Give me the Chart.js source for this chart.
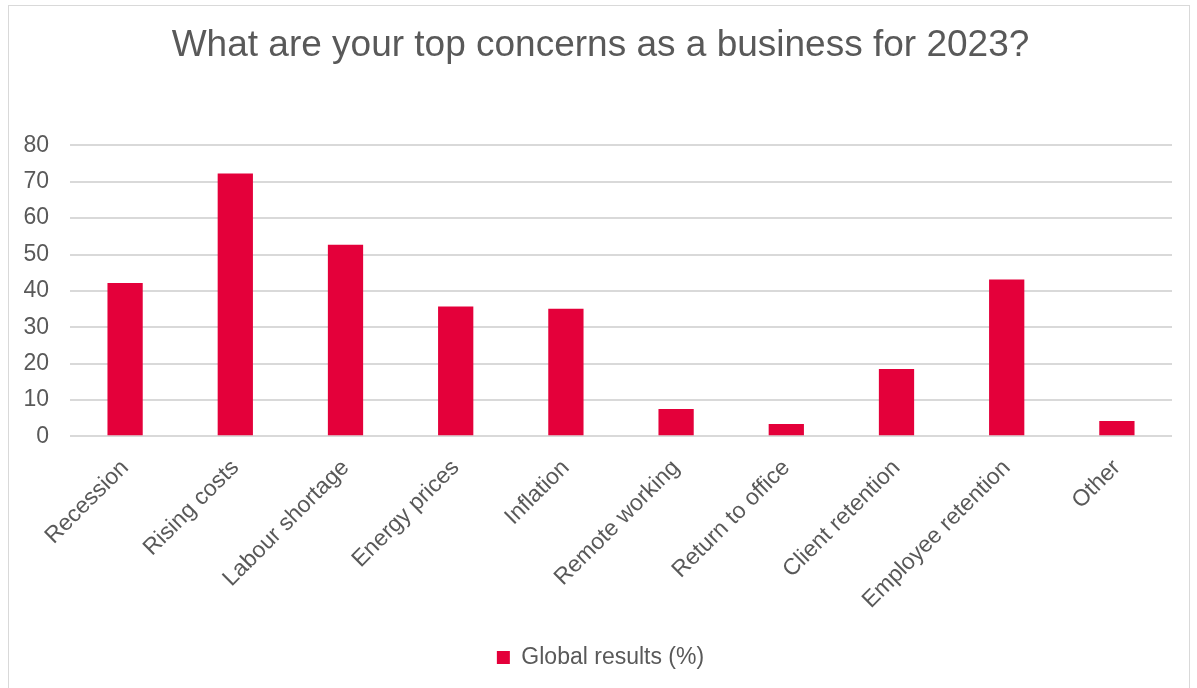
<!DOCTYPE html>
<html>
<head>
<meta charset="utf-8">
<script src="https://cdn.jsdelivr.net/npm/chart.js@4"></script>
<style>
  html, body { margin: 0; padding: 0; background: #fff; }
  .frame {
    position: absolute; left: 8px; top: 5px; width: 1182px; height: 690px;
    border: 1px solid #d9d9d9; box-sizing: border-box;
  }
  .frame canvas { display: block; }
</style>
</head>
<body>
<div class="frame"><canvas id="chart"></canvas></div>
<script>
// concerns and the share of businesses naming each one
const categories = ['Recession', 'Rising costs', 'Labour shortage', 'Energy prices', 'Inflation',
  'Remote working', 'Return to office', 'Client retention', 'Employee retention', 'Other'];
const globalResults = [42.2, 72.3, 52.7, 35.7, 35.1, 7.5, 3.4, 18.5, 43.1, 4.2];
const yTicks = [0, 10, 20, 30, 40, 50, 60, 70, 80];

const red = '#e4003a';
const textGrey = '#595959';

const ctx = document.getElementById('chart').getContext('2d');
new Chart(ctx, {
  type: 'bar',
  data: {
    labels: categories,
    datasets: [{
      label: 'Global results (%)',
      data: globalResults,
      backgroundColor: red,
      borderWidth: 0,
      categoryPercentage: 1,
      barPercentage: 0.32
    }]
  },
  options: {
    responsive: true,
    maintainAspectRatio: false,
    animation: false,
    layout: { padding: { left: 3, right: 0, top: 0, bottom: 15 } },
    plugins: {
      title: {
        display: true,
        text: 'What are your top concerns as a business for 2023?',
        color: textGrey,
        font: { family: 'Liberation Sans', size: 37, weight: 'normal' },
        padding: { top: 18, bottom: 77 }
      },
      legend: {
        position: 'bottom',
        labels: {
          color: textGrey,
          font: { family: 'Liberation Sans', size: 23 },
          boxWidth: 13,
          boxHeight: 13,
          padding: 22
        }
      },
      tooltip: { enabled: false }
    },
    scales: {
      x: {
        grid: { display: false },
        border: { display: false },
        ticks: {
          color: textGrey,
          font: { family: 'Liberation Sans', size: 23 },
          minRotation: 45,
          maxRotation: 45,
          padding: 10
        }
      },
      y: {
        min: yTicks[0],
        max: yTicks[yTicks.length - 1],
        afterBuildTicks: (axis) => { axis.ticks = yTicks.map(v => ({ value: v })); },
        // fixed width, otherwise the tick padding gets reserved twice
        afterFit: (axis) => { axis.width = 58; },
        grid: { color: '#d9d9d9', lineWidth: 2, drawTicks: false },
        border: { display: false },
        ticks: {
          color: textGrey,
          font: { family: 'Liberation Sans', size: 23 },
          padding: 21
        }
      },
      // empty right-hand strip so the title and legend sit centred on the frame
      spacer: {
        type: 'linear',
        position: 'right',
        afterFit: (axis) => { axis.width = 17; },
        grid: { display: false },
        border: { display: false },
        ticks: { display: false }
      }
    }
  }
});
</script>
</body>
</html>
